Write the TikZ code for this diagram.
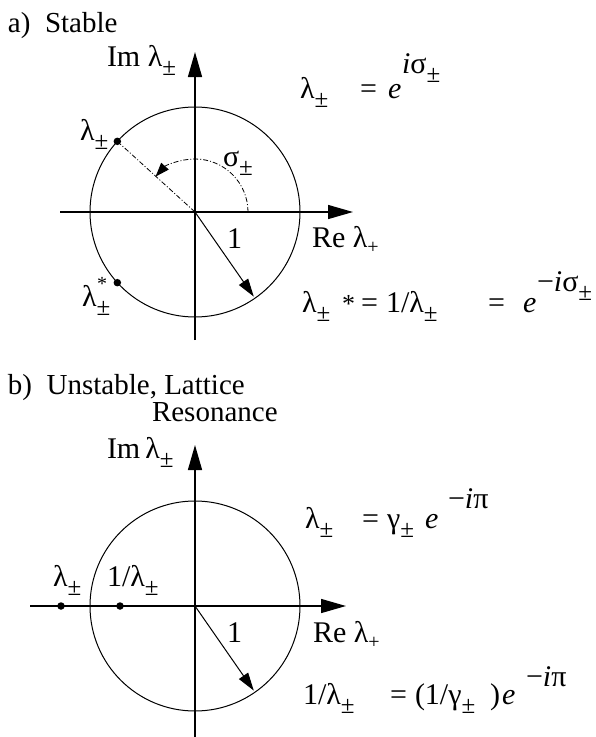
\documentclass[tikz,border=0pt]{standalone}
\usepackage{fontspec}
\setmainfont{Liberation Serif}
\usetikzlibrary{arrows.meta,calc}
\newcommand{\pmsub}{\raisebox{-9pt}{\fontsize{25}{25}\selectfont ±}}
\newcommand{\plsub}{\raisebox{-6pt}{\fontsize{20}{20}\selectfont +}}
\begin{document}
\begin{tikzpicture}[x=1pt,y=-1pt,
  lbl/.style={inner sep=0pt, outer sep=0pt, anchor=base west, font=\fontsize{30}{34}\selectfont},
  head/.style={inner sep=0pt, outer sep=0pt, anchor=base west, font=\fontsize{29}{33}\selectfont},
  axisline/.style={line width=1.4pt, -{Triangle[length=25pt,width=14pt]}},
  circline/.style={line width=1pt},
  unitarrow/.style={line width=1pt, -{Triangle[length=18pt,width=11pt]}},
  ptdot/.style={circle, fill=black, inner sep=0pt, minimum size=7.5pt},
  dashdotline/.style={line width=0.8pt, dash pattern=on 5pt off 2pt on 1pt off 2pt},
  anglearc/.style={line width=0.8pt, dash pattern=on 5pt off 2pt on 1pt off 2pt, -{Triangle[length=14pt,width=10pt]}}
]
\useasboundingbox (0,0) rectangle (596,737);
\fill[white] (0,0) rectangle (596,737);

% ---------- a) Stable ----------
\node[head] (ha) at (8,32) {a)\ \ Stable};
\coordinate (O1) at (195,212);
\coordinate (xa0) at (60,212);
\coordinate (xa1) at (353,212);
\coordinate (ya0) at (195,340);
\coordinate (ya1) at (195,52);
\draw[circline] (O1) circle[radius=105];
\draw[axisline] (xa0) -- (xa1);
\draw[axisline] (ya0) -- (ya1);
\node[ptdot] (pa) at ($(O1)+(-137.7:105)$) {};
\node[ptdot] (pas) at ($(O1)+(137.7:105)$) {};
\coordinate (ua) at ($(O1)+(55.2:103)$);
\draw[unitarrow] (O1) -- (ua);
\draw[dashdotline] (O1) -- (pa);
\coordinate (sa0) at ($(O1)+(0:53)$);
\draw[anglearc] (sa0) arc[start angle=0, end angle=-138, radius=53];

\node[lbl] (ima) at (107,66) {Im λ\pmsub};
\node[lbl] (lpa) at (80,140) {λ\pmsub};
\node[lbl] (sga) at (223,166) {σ\pmsub};
\node[lbl] (onea) at (227,248) {1};
\node[lbl] (rea) at (312,247) {Re λ\plsub};
\node[lbl] (lsa) at (82,306) {λ\pmsub};
\node[lbl, font=\fontsize{20}{20}\selectfont] (lsast) at (97,290) {*};

% equations a
\node[lbl] (a1l) at (300,98) {λ\pmsub};
\node[lbl] (a1q) at (360,98) {=};
\node[lbl] (a1e) at (388,98) {\textit{e}};
\node[lbl] (a1x) at (402,73) {\textit{i}σ\pmsub};

\node[lbl] (a2l) at (302,312) {λ\pmsub};
\node[lbl, font=\fontsize{26}{26}\selectfont] (a2s) at (342,312) {*};
\node[lbl] (a2q) at (361,312) {=};
\node[lbl] (a2r) at (386,312) {1/λ\pmsub};
\node[lbl] (a2q2) at (488,312) {=};
\node[lbl] (a2e) at (523,312) {\textit{e}};
\node[lbl] (a2x) at (537,291) {−\textit{i}σ\pmsub};

% ---------- b) Unstable ----------
\node[head] (hb) at (8,394) {b)\ \ Unstable, Lattice};
\node[head] (hb2) at (152,421) {Resonance};
\coordinate (O2) at (195,606);
\coordinate (xb0) at (30,606);
\coordinate (xb1) at (346,606);
\coordinate (yb0) at (195,737);
\coordinate (yb1) at (195,445);
\draw[circline] (O2) circle[radius=105];
\draw[axisline] (xb0) -- (xb1);
\draw[axisline] (yb0) -- (yb1);
\node[ptdot] (pb1) at (61,606) {};
\node[ptdot] (pb2) at (120,606) {};
\coordinate (ub) at ($(O2)+(55.2:103)$);
\draw[unitarrow] (O2) -- (ub);

\node[lbl] (imb) at (107,458) {Im\,λ\pmsub};
\node[lbl] (lpb) at (53,586) {λ\pmsub};
\node[lbl] (ilpb) at (107,586) {1/λ\pmsub};
\node[lbl] (oneb) at (227,642) {1};
\node[lbl] (reb) at (313,642) {Re λ\plsub};

% equations b
\node[lbl] (b1l) at (305,528) {λ\pmsub};
\node[lbl] (b1q) at (362,528) {=};
\node[lbl] (b1g) at (387,528) {γ\pmsub};
\node[lbl] (b1e) at (425,528) {\textit{e}};
\node[lbl] (b1x) at (448,508) {−\textit{i}π};

\node[lbl] (b2l) at (303,704) {1/λ\pmsub};
\node[lbl] (b2q) at (390,704) {=};
\node[lbl] (b2g) at (415,704) {(1/γ\pmsub};
\node[lbl] (b2p) at (490,704) {)};
\node[lbl] (b2e) at (502,704) {\textit{e}};
\node[lbl] (b2x) at (526,686) {−\textit{i}π};
\end{tikzpicture}
\end{document}
